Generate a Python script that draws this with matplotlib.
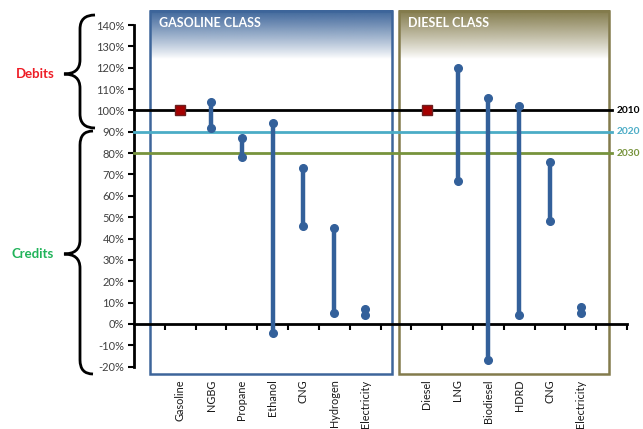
import numpy as np
import matplotlib
matplotlib.use('Agg')
import matplotlib.pyplot as plt
from matplotlib.path import Path
from matplotlib.patches import PathPatch, Rectangle
from matplotlib.colors import to_rgb

plt.rcParams['font.family'] = ['Lato', 'DejaVu Sans']

# categories along the x axis (blank slots are gaps in the original chart)
categories = ['', 'Gasoline', 'NGBG', 'Propane', 'Ethanol', 'CNG', 'Hydrogen', 'Electricity',
              '', 'Diesel', 'LNG', 'Biodiesel', 'HDRD', 'CNG', 'Electricity', '']
nan = np.nan
high = [nan, nan, 104, 87, 94, 73, 45, 7, nan, nan, 120, 106, 102, 76, 8, nan]
low = [nan, nan, 92, 78, -4, 46, 5, 4.2, nan, nan, 67, -17, 4, 48, 5, nan]
baseline = [nan, 100, nan, nan, nan, nan, nan, nan, nan, 100, nan, nan, nan, nan, nan, nan]

std_years = ['2010', '2020', '2030']
std_values = [100, 90, 80]
std_colors = ['#000000', '#4bacc6', '#77933c']

W, H = 643, 429
fig = plt.figure(figsize=(W / 100, H / 100), dpi=100)
ax = fig.add_axes([134 / W, 1 - 366.7 / H, (627 - 134) / W, (366.7 - 25) / H])
ax.set_xlim(-0.5, 15.5)
ax.set_ylim(-20, 140)
ax.patch.set_alpha(0)

x = np.arange(len(categories))

# class boxes with gradient header
def class_box(x0, x1, color, title):
    y0, y1 = -23.4, 146.5
    rgb = np.array(to_rgb(color))
    n = 100
    grad = np.ones((n, 2, 4))
    t = np.linspace(0, 1, n)[:, None]
    grad[:, :, :3] = rgb
    grad[:, :, 3] = np.clip(1 - t, 0, 1) ** 0.9
    ax.imshow(grad, extent=[x0, x1, 124, y1], aspect='auto', origin='upper',
              clip_on=False, zorder=0, interpolation='bilinear')
    ax.add_patch(Rectangle((x0, y0), x1 - x0, y1 - y0, fill=False, ec=color, lw=1.8,
                           clip_on=False, zorder=1))
    ax.text(x0 + 0.3, 141, title, color='white', fontsize=9, fontweight='bold',
            va='center', ha='left', zorder=2, clip_on=False)

class_box(0.02, 7.88, '#3d659a', 'GASOLINE CLASS')
class_box(8.1, 14.92, '#837b4c', 'DIESEL CLASS')
ax.set_xlim(-0.5, 15.5)
ax.set_ylim(-20, 140)

# standard lines
for yr, v, c in zip(std_years, std_values, std_colors):
    ax.plot([-0.5, 15.0], [v, v], color=c, lw=2, zorder=3, clip_on=False)
    ax.text(15.16, v, yr, color=c, fontsize=7.3, fontweight='bold', va='center', ha='left',
            clip_on=False)

# ranges
blue = '#33609a'
ax.vlines(x, low, high, color=blue, lw=3.2, zorder=4)
ax.plot(x, low, 'o', color=blue, ms=5.5, zorder=5)
ax.plot(x, high, 'o', color=blue, ms=5.5, zorder=5)
ax.plot(x, baseline, 's', color='#a50000', mec='#6b2020', ms=7.5, zorder=6)

# axes styling
for s in ['top', 'right']:
    ax.spines[s].set_visible(False)
ax.spines['bottom'].set_position(('data', 0))
ax.spines['left'].set_linewidth(2)
ax.spines['bottom'].set_linewidth(2)

yt = np.arange(-20, 141, 10)
ax.set_yticks(yt)
ax.set_yticklabels([f'{v}%' for v in yt])
ax.tick_params(axis='y', direction='out', length=4, width=1.5, labelsize=8,
               labelcolor='#404040', pad=3)

ax.set_xticks(x)
ax.set_xticklabels(categories, rotation=90, fontsize=7.8, color='#1a1a1a')
ax.set_xticks(np.arange(0.5, 15.6, 1), minor=True)
ax.tick_params(axis='x', which='major', length=0, pad=40)
ax.tick_params(axis='x', which='minor', direction='out', length=4, width=1.5)

# braces
def brace(px, y0, y1, ytip, xtip=64, xs=80, r=14):
    pts = [(px, y0), (xs, y0), (xs, y0 + r),
           (xs, ytip - r),
           (xs, ytip), (xtip, ytip),
           (xs, ytip), (xs, ytip + r),
           (xs, y1 - r),
           (xs, y1), (px, y1)]
    codes = [Path.MOVETO, Path.CURVE3, Path.CURVE3, Path.LINETO,
             Path.CURVE3, Path.CURVE3, Path.CURVE3, Path.CURVE3, Path.LINETO,
             Path.CURVE3, Path.CURVE3]
    verts = [(a / W, 1 - b / H) for a, b in pts]
    fig.patches.append(PathPatch(Path(verts, codes), transform=fig.transFigure,
                                 fill=False, lw=2, color='black'))

brace(95, 15, 128, 74)
brace(93, 131, 374, 254)

fig.text(35 / W, 1 - 74 / H, 'Debits', color='#ee1c25', fontsize=9.5, fontweight='bold',
         ha='center', va='center')
fig.text(33 / W, 1 - 254 / H, 'Credits', color='#21b35a', fontsize=9.5, fontweight='bold',
         ha='center', va='center')

fig.savefig('out.png', dpi=100)
